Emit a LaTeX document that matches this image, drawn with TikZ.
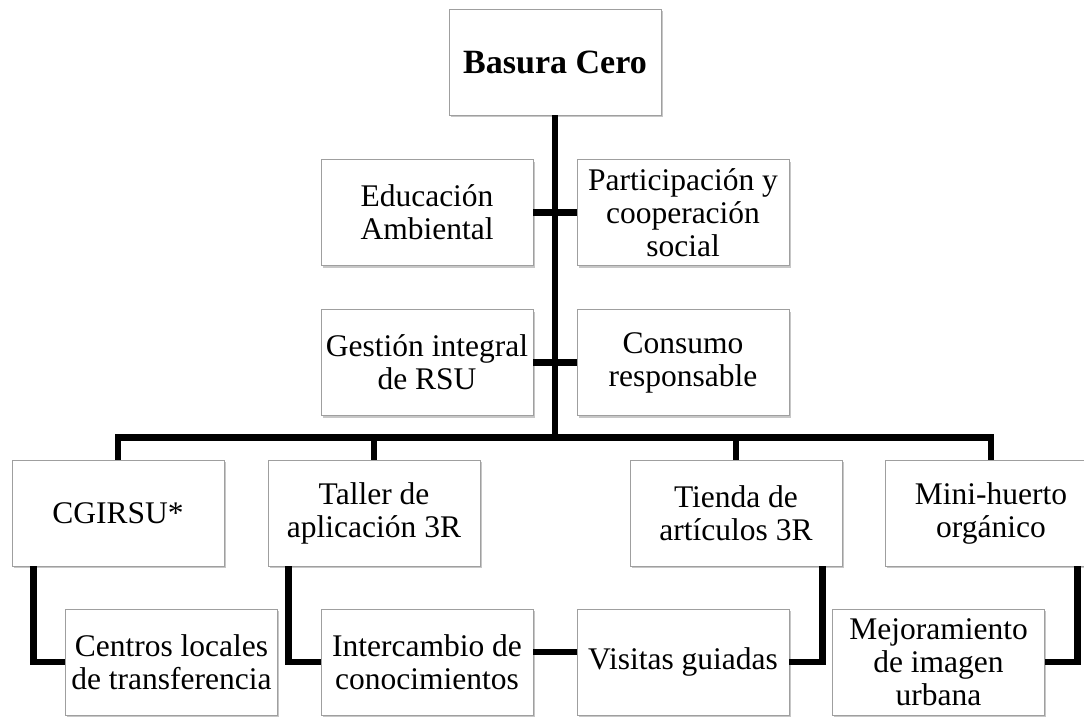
\documentclass[tikz,border=0pt]{standalone}
\usepackage{fontspec}
\setmainfont{Liberation Serif}
\usetikzlibrary{shadows}
\tikzset{
  box/.style={draw=gray!75, line width=0.9pt, fill=white, minimum width=212pt, minimum height=106pt,
    inner sep=2pt, align=center, font=\fontsize{31.5}{33}\selectfont,
    drop shadow={shadow xshift=1.5pt, shadow yshift=-2pt, fill=black, opacity=0.22}},
  conn/.style={line width=6.5pt, line join=miter, draw=black}
}
\begin{document}
\begin{tikzpicture}[x=1pt,y=-1pt]
\useasboundingbox (0,0) rectangle (1084,716);
\clip (0,0) rectangle (1084,716);
% row 0
\node[box, font=\fontsize{34}{36}\selectfont\bfseries] (top) at (555,62) {Basura Cero};
% row 1
\node[box] (edu) at (427,212.5) {Educación\\Ambiental};
\node[box] (par) at (683,212.5) {Participación y\\cooperación\\social};
% row 2
\node[box] (ges) at (427,362.5) {Gestión integral\\de RSU};
\node[box] (con) at (683,362.5) {Consumo\\responsable};
% row 3
\node[box] (cgi) at (118,513) {CGIRSU*};
\node[box] (tal) at (374,513) {Taller de\\aplicación 3R};
\node[box] (tie) at (736,513) {Tienda de\\artículos 3R};
\node[box] (min) at (991,513) {Mini-huerto\\orgánico};
% row 4
\node[box] (cen) at (171.5,662) {Centros locales\\de transferencia};
\node[box] (int) at (427,662) {Intercambio de\\conocimientos};
\node[box] (vis) at (683,662) {Visitas guiadas};
\node[box] (mej) at (938.5,662) {Mejoramiento\\de imagen\\urbana};
% connectors
\draw[conn] (top.south) -- ++(0,323);
\draw[conn] (edu.east) -- (par.west);
\draw[conn] (ges.east) -- (con.west);
\draw[conn] (cgi.north) -- ++(0,-22) -| (min.north);
\draw[conn] (tal.north) -- ++(0,-22);
\draw[conn] (tie.north) -- ++(0,-22);
\draw[conn] (cgi.south west) ++(22,0) |- (cen.west);
\draw[conn] (tal.south west) ++(21,0) |- (int.west);
\draw[conn] (tie.south east) ++(-20,0) |- (vis.east);
\draw[conn] (min.south east) ++(-20,0) |- (mej.east);
\draw[conn] ([yshift=10pt]int.east) -- ([yshift=10pt]vis.west);
\end{tikzpicture}
\end{document}
